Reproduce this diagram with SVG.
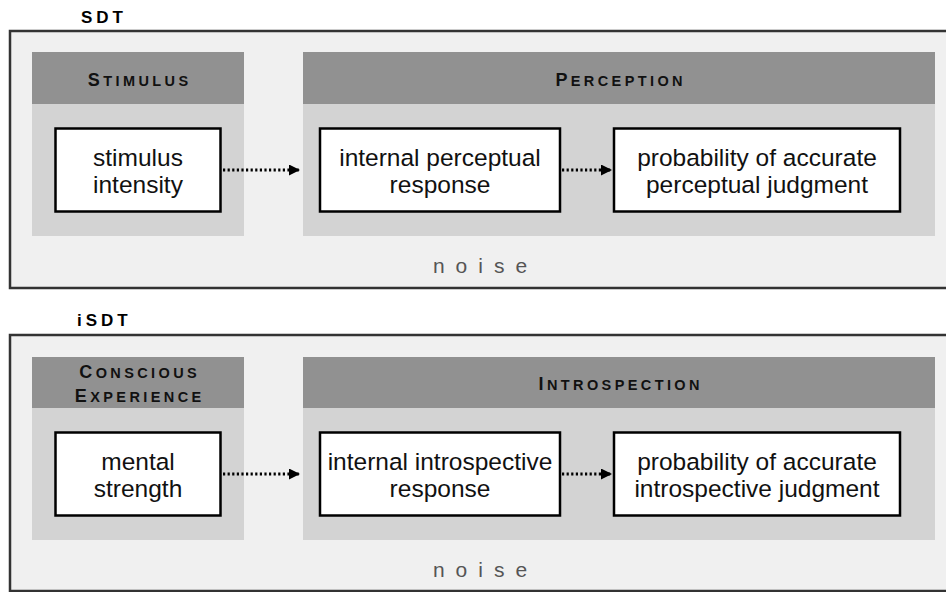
<svg xmlns="http://www.w3.org/2000/svg" width="946" height="592" viewBox="0 0 946 592">
<style>
.outer{fill:#f0f0f0;stroke:#333;stroke-width:2.5}
.hd{fill:#919191}
.bd{fill:#d3d3d3}
.box{fill:#fff;stroke:#000;stroke-width:2.5}
.lbl{font-family:"Liberation Sans",Arial,sans-serif;font-weight:bold;font-size:17px;letter-spacing:4px;fill:#000}
.hdt{font-family:"Liberation Sans",Arial,sans-serif;font-weight:bold;font-size:14.5px;letter-spacing:3.4px;fill:#111;text-anchor:middle}
.cap{font-size:18px}
.nt{font-family:"Liberation Sans",Arial,sans-serif;font-size:24.5px;fill:#111;text-anchor:middle}
.noise{font-family:"Liberation Sans",Arial,sans-serif;font-size:21px;letter-spacing:11px;fill:#555;text-anchor:middle}
.conn{fill:none;stroke:#000;stroke-width:2.8;stroke-dasharray:2.2 2.4}
</style>
<defs>
<marker id="ah" viewBox="0 0 11 11" refX="11" refY="5.5" markerWidth="11" markerHeight="11" markerUnits="userSpaceOnUse" orient="auto">
<path d="M0,0 L11,5.5 L0,11 Z" fill="#000"/>
</marker>
</defs>

<g id="sdt-panel">
<text class="lbl" x="81" y="23">SDT</text>
<rect class="outer" x="10" y="31" width="950" height="257"/>
<text class="noise" x="485.5" y="273">noise</text>
</g>
<g id="stimulus-col">
<rect class="hd" x="32" y="52" width="212" height="52"/>
<rect class="bd" x="32" y="104" width="212" height="132"/>
<text class="hdt" x="139.7" y="86"><tspan class="cap">S</tspan>TIMULUS</text>
</g>
<g id="perception-col">
<rect class="hd" x="303" y="52" width="632" height="52"/>
<rect class="bd" x="303" y="104" width="632" height="132"/>
<text class="hdt" x="620.7" y="86"><tspan class="cap">P</tspan>ERCEPTION</text>
</g>
<g id="stimulus-intensity">
<rect class="box" x="55.5" y="128.5" width="165" height="83"/>
<text class="nt" x="138" y="166">stimulus</text>
<text class="nt" x="138" y="193">intensity</text>
</g>
<g id="internal-perceptual-response">
<rect class="box" x="320" y="128.5" width="240" height="83"/>
<text class="nt" x="440" y="166">internal perceptual</text>
<text class="nt" x="440" y="193">response</text>
</g>
<g id="probability-perceptual">
<rect class="box" x="614" y="128.5" width="286" height="83"/>
<text class="nt" x="757" y="166">probability of accurate</text>
<text class="nt" x="757" y="193">perceptual judgment</text>
</g>

<g id="isdt-panel">
<text class="lbl" x="77" y="326">iSDT</text>
<rect class="outer" x="10" y="335" width="950" height="256"/>
<text class="noise" x="485.5" y="577">noise</text>
</g>
<g id="conscious-col">
<rect class="hd" x="32" y="357" width="212" height="51"/>
<rect class="bd" x="32" y="408" width="212" height="132"/>
<text class="hdt" x="139.7" y="378"><tspan class="cap">C</tspan>ONSCIOUS</text>
<text class="hdt" x="139.7" y="402"><tspan class="cap">E</tspan>XPERIENCE</text>
</g>
<g id="introspection-col">
<rect class="hd" x="303" y="357" width="632" height="51"/>
<rect class="bd" x="303" y="408" width="632" height="132"/>
<text class="hdt" x="620.7" y="390"><tspan class="cap">I</tspan>NTROSPECTION</text>
</g>
<g id="mental-strength">
<rect class="box" x="55.5" y="432.5" width="165" height="83"/>
<text class="nt" x="138" y="470">mental</text>
<text class="nt" x="138" y="497">strength</text>
</g>
<g id="internal-introspective-response">
<rect class="box" x="320" y="432.5" width="240" height="83"/>
<text class="nt" x="440" y="470">internal introspective</text>
<text class="nt" x="440" y="497">response</text>
</g>
<g id="probability-introspective">
<rect class="box" x="614" y="432.5" width="286" height="83"/>
<text class="nt" x="757" y="470">probability of accurate</text>
<text class="nt" x="757" y="497">introspective judgment</text>
</g>

<g id="connectors">
<line class="conn" x1="223" y1="170" x2="300" y2="170" marker-end="url(#ah)"/>
<line class="conn" x1="562" y1="170" x2="612" y2="170" marker-end="url(#ah)"/>
<line class="conn" x1="223" y1="474" x2="300" y2="474" marker-end="url(#ah)"/>
<line class="conn" x1="562" y1="474" x2="612" y2="474" marker-end="url(#ah)"/>
</g>
</svg>
